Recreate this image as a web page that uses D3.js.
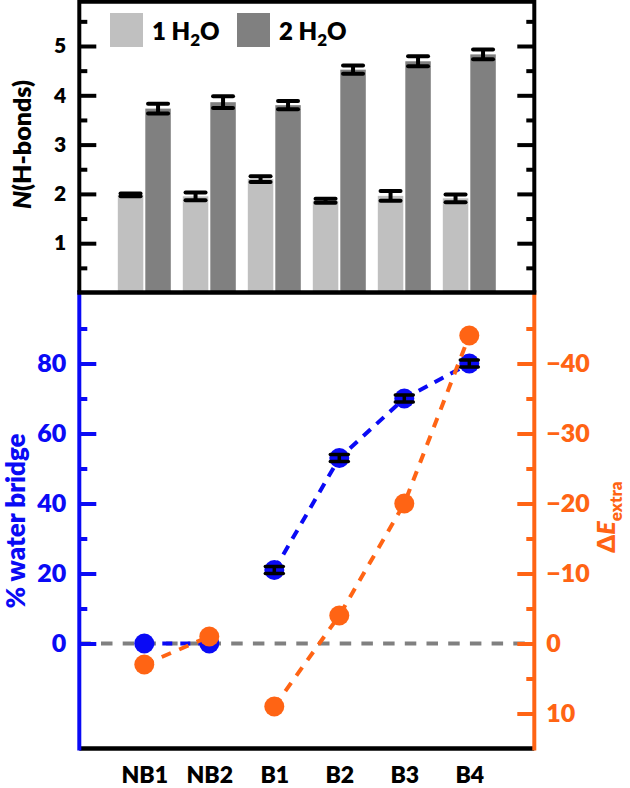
<!DOCTYPE html>
<html><head><meta charset="utf-8">
<script src="https://cdn.jsdelivr.net/npm/d3@7"></script>
<style>body{margin:0;background:#fff}svg{display:block}text{font-family:Lato,"Open Sans",sans-serif;font-weight:700}</style>
</head><body><svg id="c" width="630" height="788"></svg>
<script>
// ---- data ----
const categories = ["NB1","NB2","B1","B2","B3","B4"];
const hb1 = [1.98,1.95,2.30,1.86,1.96,1.91];
const hb1Err = [0.03,0.08,0.06,0.04,0.10,0.08];
const hb2 = [3.73,3.86,3.80,4.52,4.69,4.83];
const hb2Err = [0.10,0.12,0.085,0.085,0.10,0.10];
const seriesNames = ["1 H", "2 H"];
const bridge = [0,0,21,53,70,80];
const bridgeErr = [null,null,1,1,1,1];
const dE = [3,-1,9,-4,-20,-44];
const lineGroups = [[0,1],[2,3,4,5]];
const topMajor = [1,2,3,4,5];
const topMinor = [0.5,1.5,2.5,3.5,4.5,5.5];
const leftMajor = [0,20,40,60,80];
const leftMinor = [10,30,50,70,90];
const rightMajor = [-40,-30,-20,-10,0,10];
const rightMinor = [-45,-35,-25,-15,-5,5];

// ---- layout ----
const L = 79.3, R = 534.3;
const topY0 = 1.7, topY1 = 292.5, botY = 748.5;
const BLUE = "#0a0af5", ORANGE = "#ff6414", LIGHT = "#c0c0c0", DARK = "#808080";
const FW = 800;

const svg = d3.select("#c");
const x = d3.scalePoint().domain(categories).range([L, R]).padding(1);
const yTop = d3.scaleLinear().domain([0, 5.93]).range([topY1, topY1 - 5.93*49.3]);
const yL = d3.scaleLinear().domain([-30, 100]).range([botY, botY - 130*3.5]);
const yR = d3.scaleLinear().domain([15, -50]).range([botY, botY - 65*7]);

function styleAxis(g, color, fs) {
  g.select(".domain").remove();
  g.selectAll(".tick line").attr("stroke", color).attr("stroke-width", 4);
  g.selectAll(".tick text").attr("fill", color).attr("font-size", fs)
    .style("font-family", "Lato, sans-serif").style("font-weight", FW);
}

// ---- top panel bars ----
const bw = 25.5;
const gBars = svg.append("g");
gBars.selectAll("rect.b1").data(categories).join("rect")
  .attr("x", d => x(d) - bw - 1).attr("width", bw)
  .attr("y", (d,i) => yTop(hb1[i])).attr("height", (d,i) => yTop(0) - yTop(hb1[i]))
  .attr("fill", LIGHT);
gBars.selectAll("rect.b2").data(categories).join("rect")
  .attr("x", d => x(d) + 1).attr("width", bw)
  .attr("y", (d,i) => yTop(hb2[i])).attr("height", (d,i) => yTop(0) - yTop(hb2[i]))
  .attr("fill", DARK);

function errBar(g, cx, yc, yl, yh, capW, sw) {
  g.append("line").attr("x1", cx).attr("x2", cx).attr("y1", yl).attr("y2", yh)
    .attr("stroke", "#000").attr("stroke-width", sw);
  [yl, yh].forEach(yy => g.append("line").attr("x1", cx - capW/2).attr("x2", cx + capW/2)
    .attr("y1", yy).attr("y2", yy).attr("stroke", "#000").attr("stroke-width", sw)
    .attr("stroke-linecap", "round"));
}
const gErr = svg.append("g");
categories.forEach((c, i) => {
  const c1 = x(c) - bw/2 - 1, c2 = x(c) + 1 + bw/2;
  errBar(gErr, c1, yTop(hb1[i]), yTop(hb1[i] - hb1Err[i]), yTop(hb1[i] + hb1Err[i]), 20, 4);
  errBar(gErr, c2, yTop(hb2[i]), yTop(hb2[i] - hb2Err[i]), yTop(hb2[i] + hb2Err[i]), 20, 4);
});

// top axes
svg.append("g").attr("transform", `translate(${L},0)`)
  .call(d3.axisLeft(yTop).tickValues(topMinor).tickSize(-8).tickFormat(""))
  .call(g => styleAxis(g, "#000", 21));
svg.append("g").attr("transform", `translate(${L},0)`)
  .call(d3.axisLeft(yTop).tickValues(topMajor).tickSize(-17).tickPadding(13).tickFormat(d3.format("d")))
  .call(g => styleAxis(g, "#000", 21));
svg.append("g").attr("transform", `translate(${R},0)`)
  .call(d3.axisRight(yTop).tickValues(topMinor).tickSize(-8).tickFormat(""))
  .call(g => styleAxis(g, "#000", 21));
svg.append("g").attr("transform", `translate(${R},0)`)
  .call(d3.axisRight(yTop).tickValues(topMajor).tickSize(-17).tickFormat(""))
  .call(g => styleAxis(g, "#000", 21));

// legend
const leg = svg.append("g");
[LIGHT, DARK].forEach((col, k) => {
  const lx = k === 0 ? 110 : 237;
  leg.append("rect").attr("x", lx).attr("y", 13).attr("width", 33).attr("height", 34).attr("fill", col);
  const t = leg.append("text").attr("x", lx + 42).attr("y", 40).attr("font-size", 24)
    .attr("fill", "#000").style("font-weight", FW);
  t.append("tspan").text(seriesNames[k]);
  t.append("tspan").attr("font-size", 17).attr("dy", 6).text("2");
  t.append("tspan").attr("dy", -6).text("O");
});

// top y label
svg.append("text").attr("transform", `translate(31,${yTop(3)}) rotate(-90)`)
  .attr("text-anchor", "middle").attr("font-size", 25).attr("fill", "#000").style("font-weight", FW)
  .call(t => { t.append("tspan").attr("font-style", "italic").text("N"); t.append("tspan").text("(H-bonds)"); });

// ---- bottom panel ----
// zero line
svg.append("line").attr("x1", L).attr("x2", R).attr("y1", yL(0)).attr("y2", yL(0))
  .attr("stroke", "#808080").attr("stroke-width", 4).attr("stroke-dasharray", "11.5,10.2");

// axes ticks
svg.append("g").attr("transform", `translate(${L},0)`)
  .call(d3.axisLeft(yL).tickValues(leftMinor).tickSize(-8).tickFormat(""))
  .call(g => styleAxis(g, BLUE, 25));
svg.append("g").attr("transform", `translate(${L},0)`)
  .call(d3.axisLeft(yL).tickValues(leftMajor).tickSize(-17).tickPadding(13).tickFormat(d3.format("d")))
  .call(g => styleAxis(g, BLUE, 25));
svg.append("g").attr("transform", `translate(${R},0)`)
  .call(d3.axisRight(yR).tickValues(rightMinor).tickSize(-8).tickFormat(""))
  .call(g => styleAxis(g, ORANGE, 25));
svg.append("g").attr("transform", `translate(${R},0)`)
  .call(d3.axisRight(yR).tickValues(rightMajor).tickSize(-17).tickPadding(12).tickFormat(d3.format("d")))
  .call(g => styleAxis(g, ORANGE, 25));

// blue series
const lineB = d3.line().x(i => x(categories[i])).y(i => yL(bridge[i]));
svg.append("g").selectAll("path").data(lineGroups).join("path")
  .attr("d", lineB).attr("fill", "none").attr("stroke", BLUE).attr("stroke-width", 4)
  .attr("stroke-dasharray", "10,8");
svg.append("g").selectAll("circle").data(categories).join("circle")
  .attr("cx", d => x(d)).attr("cy", (d,i) => yL(bridge[i])).attr("r", 10).attr("fill", BLUE);
const gErr2 = svg.append("g");
categories.forEach((c, i) => {
  if (bridgeErr[i] == null) return;
  errBar(gErr2, x(c), yL(bridge[i]), yL(bridge[i] - bridgeErr[i]), yL(bridge[i] + bridgeErr[i]), 18, 3.5);
});

// orange series
const lineO = d3.line().x(i => x(categories[i])).y(i => yR(dE[i]));
svg.append("g").selectAll("path").data(lineGroups).join("path")
  .attr("d", lineO).attr("fill", "none").attr("stroke", ORANGE).attr("stroke-width", 4)
  .attr("stroke-dasharray", "10,9");
svg.append("g").selectAll("circle").data(categories).join("circle")
  .attr("cx", d => x(d)).attr("cy", (d,i) => yR(dE[i])).attr("r", 10).attr("fill", ORANGE);

// x axis labels
svg.append("g").attr("transform", `translate(0,${botY})`)
  .call(d3.axisBottom(x).tickSize(0))
  .call(g => {
    g.select(".domain").remove();
    g.selectAll(".tick text").attr("y", 34.5).attr("dy", 0).attr("fill", "#000")
      .attr("font-size", 23).style("font-family", "Lato, sans-serif").style("font-weight", FW);
  });

// frame lines
svg.append("line").attr("x1", L).attr("x2", R).attr("y1", botY).attr("y2", botY).attr("stroke", "#000").attr("stroke-width", 4.5);
svg.append("line").attr("x1", L).attr("x2", L).attr("y1", topY1).attr("y2", botY + 2).attr("stroke", BLUE).attr("stroke-width", 4);
svg.append("line").attr("x1", R).attr("x2", R).attr("y1", topY1).attr("y2", botY + 2).attr("stroke", ORANGE).attr("stroke-width", 4);
svg.append("path").attr("d", `M${L},${topY1}V${topY0}H${R}V${topY1}`).attr("fill", "none").attr("stroke", "#000").attr("stroke-width", 4);
svg.append("line").attr("x1", L - 2).attr("x2", R + 2).attr("y1", topY1).attr("y2", topY1).attr("stroke", "#000").attr("stroke-width", 4.5);

// bottom y labels
svg.append("text").attr("transform", `translate(25,521) rotate(-90)`)
  .attr("text-anchor", "middle").attr("font-size", 26).attr("fill", BLUE).style("font-weight", FW).text("% water bridge");
svg.append("text").attr("transform", `translate(615,517) rotate(-90)`)
  .attr("text-anchor", "middle").attr("font-size", 25).attr("fill", ORANGE).style("font-weight", FW)
  .call(t => {
    t.append("tspan").text("Δ");
    t.append("tspan").attr("font-style", "italic").text("E");
    t.append("tspan").attr("font-size", 17).attr("dy", 7).text("extra");
  });
</script></body></html>
